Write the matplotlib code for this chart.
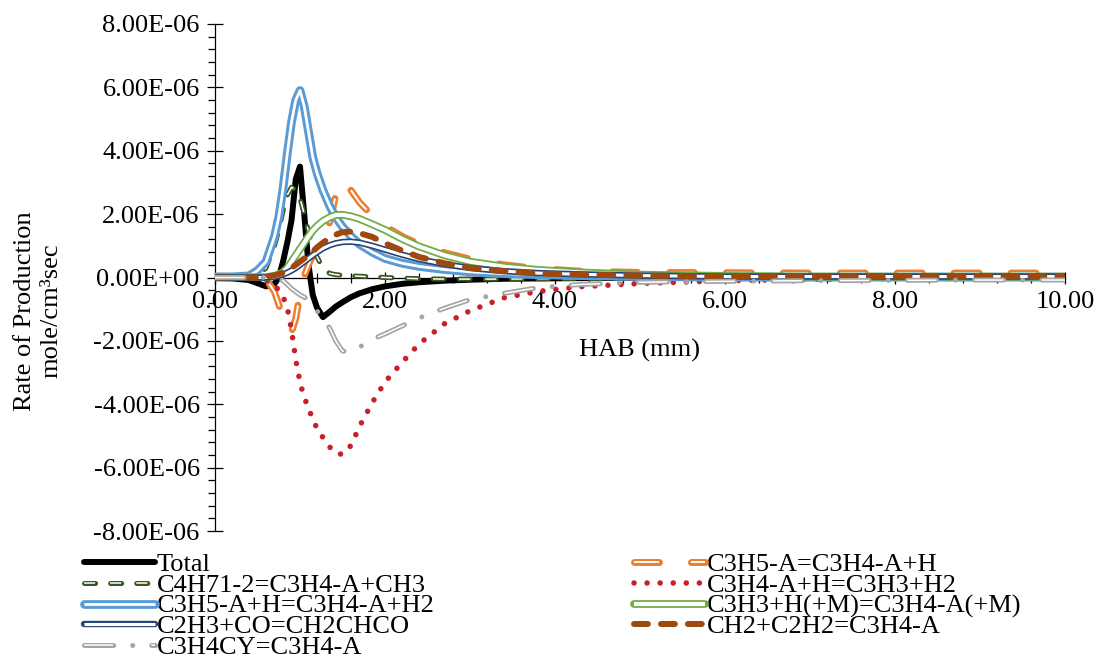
import matplotlib
matplotlib.use("Agg")
import matplotlib.pyplot as plt
from matplotlib.lines import Line2D
from matplotlib.ticker import MultipleLocator, FuncFormatter

plt.rcParams['font.family'] = ['Liberation Serif', 'DejaVu Serif']
plt.rcParams['lines.scale_dashes'] = False

# Height above burner (mm)
hab = [0, 0.2, 0.4, 0.5, 0.6, 0.7, 0.75, 0.8, 0.85, 0.9, 0.95, 1.0, 1.05, 1.1,
       1.15, 1.2, 1.27, 1.35, 1.42, 1.5, 1.6, 1.7, 1.85, 2.0, 2.2, 2.4, 2.7,
       3.0, 3.4, 3.8, 4.3, 5, 6, 7, 8, 9, 10]

# Rates of production, in units of 1e-6 mole/cm3/sec
SCALE = 1e-6
total = [-0.02, -0.03, -0.08, -0.18, -0.28, -0.2, 0.0, 0.5, 1.1, 1.8, 3.1, 3.5,
         2.0, 0.4, -0.55, -0.95, -1.25, -1.08, -0.92, -0.78, -0.62, -0.5, -0.37,
         -0.28, -0.2, -0.15, -0.1, -0.07, -0.04, -0.03, -0.02, -0.01, 0, 0, 0, 0, 0]
c3h5a_decomp = [0, 0, 0, 0, -0.05, -0.45, -0.85, -1.3, -1.65, -1.72, -1.3, -0.5,
                0.05, 0.4, 0.7, 0.95, 1.25, 1.75, 2.6, 3.05, 2.75, 2.37, 1.95,
                1.62, 1.3, 1.05, 0.78, 0.58, 0.4, 0.28, 0.2, 0.16, 0.15, 0.14,
                0.14, 0.14, 0.14]
c4h7_decomp = [0, 0, 0, 0.05, 0.3, 1.0, 1.5, 2.1, 2.6, 2.85, 2.75, 2.5, 2.0,
               1.45, 1.0, 0.65, 0.3, 0.13, 0.09, 0.07, 0.05, 0.04, 0.02, 0.0,
               -0.02, -0.04, -0.05, -0.05, -0.05, -0.04, -0.03, -0.02, -0.01,
               -0.01, -0.01, -0.01, -0.01]
c3h4_h_abstr = [0, 0, -0.01, -0.03, -0.08, -0.25, -0.4, -0.6, -0.95, -1.65,
                -2.6, -3.3, -3.8, -4.1, -4.5, -4.75, -5.05, -5.35, -5.55, -5.58,
                -5.3, -4.7, -3.95, -3.3, -2.68, -2.1, -1.46, -1.05, -0.64,
                -0.44, -0.29, -0.19, -0.1, -0.06, -0.04, -0.03, -0.02]
c3h5a_h_abstr = [0.02, 0.02, 0.05, 0.22, 0.5, 1.3, 1.9, 2.8, 3.9, 4.9, 5.6, 5.9,
                 5.4, 4.6, 3.8, 3.3, 2.75, 2.25, 1.9, 1.6, 1.3, 1.05, 0.8, 0.6,
                 0.45, 0.35, 0.25, 0.18, 0.12, 0.09, 0.06, 0.03, 0.01, 0.01,
                 0.01, 0.01, 0.01]
c3h3_h_recomb = [0.01, 0.01, 0.01, 0.01, 0.01, 0.05, 0.1, 0.17, 0.3, 0.5, 0.7,
                 0.9, 1.1, 1.3, 1.48, 1.62, 1.78, 1.9, 1.97, 1.98, 1.93, 1.85,
                 1.68, 1.5, 1.22, 0.98, 0.7, 0.5, 0.34, 0.24, 0.16, 0.09, 0.05,
                 0.03, 0.03, 0.03, 0.03]
c2h3_co = [0, 0, 0, 0, 0, 0.02, 0.05, 0.1, 0.15, 0.22, 0.3, 0.4, 0.5, 0.6, 0.7,
           0.8, 0.92, 1.02, 1.08, 1.12, 1.13, 1.1, 1.0, 0.88, 0.72, 0.58, 0.42,
           0.3, 0.2, 0.14, 0.1, 0.06, 0.03, 0.03, 0.03, 0.03, 0.03]
ch2_c2h2 = [0, 0, 0, 0, 0.03, 0.07, 0.1, 0.15, 0.22, 0.3, 0.4, 0.5, 0.6, 0.7,
            0.82, 0.95, 1.1, 1.25, 1.35, 1.43, 1.45, 1.4, 1.28, 1.08, 0.85,
            0.65, 0.45, 0.3, 0.2, 0.13, 0.09, 0.06, 0.03, 0.03, 0.03, 0.03, 0.03]
c3h4cy_isom = [0, 0, 0, 0, 0, -0.02, -0.05, -0.1, -0.22, -0.35, -0.45, -0.55,
               -0.62, -0.7, -0.85, -1.05, -1.3, -1.6, -2.0, -2.32, -2.35, -2.2,
               -1.95, -1.78, -1.53, -1.28, -0.97, -0.7, -0.5, -0.32, -0.22,
               -0.15, -0.12, -0.1, -0.09, -0.08, -0.08]

labels = ["Total", "C3H5-A=C3H4-A+H", "C4H71-2=C3H4-A+CH3", "C3H4-A+H=C3H3+H2",
          "C3H5-A+H=C3H4-A+H2", "C3H3+H(+M)=C3H4-A(+M)", "C2H3+CO=CH2CHCO",
          "CH2+C2H2=C3H4-A", "C3H4CY=C3H4-A"]
values = [total, c3h5a_decomp, c4h7_decomp, c3h4_h_abstr, c3h5a_h_abstr,
          c3h3_h_recomb, c2h3_co, ch2_c2h2, c3h4cy_isom]

# line style per series: colour, width, white core width, dash pattern
styles = [
    dict(color="#000000", lw=4.3, core=None, dashes=None),
    dict(color="#ED7D31", lw=5.0, core=1.4, dashes=(18, 23)),
    dict(color="#385723", lw=3.6, core=1.1, dashes=(8, 10.8)),
    dict(color="#C8202A", lw=4.0, core=None, dashes=(0.01, 9.4)),
    dict(color="#5B9BD5", lw=6.3, core=2.0, dashes=None),
    dict(color="#70AD47", lw=5.6, core=3.0, dashes=None),
    dict(color="#264478", lw=4.6, core=2.2, dashes=None),
    dict(color="#9E480E", lw=4.3, core=None, dashes=(10, 9.4)),
    dict(color="#A5A5A5", lw=3.6, core=1.1, dashes=(21, 13.7, 0.01, 13.7)),
]


def line_kwargs(st, z):
    """Keyword sets for the coloured stroke and its optional white core."""
    kw = dict(color=st["color"], lw=st["lw"], zorder=z,
              solid_capstyle="round", solid_joinstyle="round",
              dash_capstyle="round", dash_joinstyle="round")
    if st["dashes"] is not None:
        kw["linestyle"] = (0, st["dashes"])
    ckw = None
    if st["core"] is not None:
        ckw = dict(color="white", lw=st["core"], zorder=z + 0.5,
                   solid_capstyle="butt", dash_capstyle="butt")
        if st["dashes"] is not None:
            ckw["linestyle"] = (0, st["dashes"])
    return kw, ckw


W, H = 1095, 672
fig = plt.figure(figsize=(W / 100, H / 100), dpi=100)
ax = fig.add_axes([215 / W, 1 - 531 / H, 850 / W, 507 / H])

for i, (vals, st) in enumerate(zip(values, styles)):
    y = [v * SCALE for v in vals]
    kw, ckw = line_kwargs(st, 3 + i)
    ax.plot(hab, y, **kw)
    if ckw is not None:
        ax.plot(hab, y, **ckw)

ax.set_xlim(0, 10)
ax.set_ylim(-8e-6, 8e-6)

for side in ("top", "right"):
    ax.spines[side].set_visible(False)
ax.spines["bottom"].set_position(("data", 0))
for side in ("left", "bottom"):
    ax.spines[side].set_linewidth(0.9)
    ax.spines[side].set_zorder(2.5)

ax.xaxis.set_major_locator(MultipleLocator(2))
ax.xaxis.set_minor_locator(MultipleLocator(0.4))
ax.yaxis.set_major_locator(MultipleLocator(2e-6))
ax.yaxis.set_minor_locator(MultipleLocator(0.4e-6))
ax.xaxis.set_major_formatter(FuncFormatter(lambda v, p: f"{v:.2f}"))
ax.yaxis.set_major_formatter(FuncFormatter(lambda v, p: f"{v:.2E}"))

ax.tick_params(axis="x", which="major", direction="inout", length=9, width=0.9,
               pad=5, labelsize=19)
ax.tick_params(axis="x", which="minor", direction="inout", length=7, width=0.9)
ax.tick_params(axis="y", which="major", direction="inout", length=12, width=0.9,
               pad=5, labelsize=19)
ax.tick_params(axis="y", which="minor", direction="out", length=5, width=0.9)

ax.set_xlabel("HAB (mm)", fontsize=19)
ax.xaxis.set_label_coords(0.5, (531 - 339) / 507)

fig.text(38 / W, 1 - 311 / H, "Rate of Production\nmole/cm\u00b3sec",
         rotation=90, ha="center", va="center", fontsize=19, linespacing=1.25,
         multialignment="center")

# Two-column legend below the plot, rows filled left to right
rows_y = [562, 583, 603.5, 624, 645]
col_x = [84, 634]
handle_len = 71
for k, (lab, st) in enumerate(zip(labels, styles)):
    col, row = k % 2, k // 2
    x0, yc = col_x[col], rows_y[row]
    xs = [x0 / W, (x0 + handle_len) / W]
    ys = [1 - yc / H] * 2
    kw, ckw = line_kwargs(st, 10)
    fig.add_artist(Line2D(xs, ys, transform=fig.transFigure, **kw))
    if ckw is not None:
        fig.add_artist(Line2D(xs, ys, transform=fig.transFigure, **ckw))
    fig.text((x0 + handle_len + 2) / W, 1 - (yc + 9) / H, lab, fontsize=19,
             ha="left", va="baseline")

fig.savefig("out.png", dpi=100)
